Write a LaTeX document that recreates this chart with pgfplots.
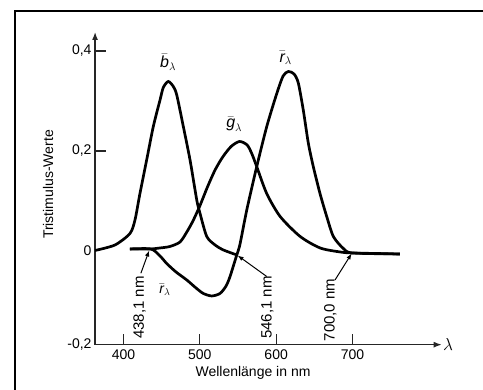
\documentclass[border=0pt]{standalone}
\usepackage{fontspec}
\setmainfont{Liberation Sans}
\usepackage{pgfplots}
\pgfplotsset{compat=1.18}
\usetikzlibrary{arrows.meta}
\begin{document}
\begin{tikzpicture}
\begin{axis}[
  x=0.7636pt, y=500pt,
  xmin=362.8, xmax=816.8, ymin=-0.1874, ymax=0.438,
  axis x line*=left, axis y line*=left,
  axis line style={draw=none},
  clip=false,
  tick align=inside,
  major tick length=11pt,
  tick style={black!85, line width=1.2pt},
  xtick={400,500,600,700},
  xticklabels={400,500,600,700},
  ytick={0.2,0.4},
  yticklabels={{0,2},{0,4}},
  extra y ticks={-0.1874,0},
  extra y tick labels={{-0,2},{0}},
  extra y tick style={major tick length=0pt},
  tick label style={font=\fontsize{14}{16}\selectfont},
  xticklabel style={yshift=-2pt},
]
% axis lines with arrows
\draw[black!85, line width=1.3pt, -{Latex[length=8pt,width=6pt]}] (axis cs:362.8,-0.1874) -- (axis cs:816.8,-0.1874);
\draw[black!85, line width=1.3pt, -{Latex[length=8pt,width=6pt]}] (axis cs:362.8,-0.1874) -- (axis cs:362.8,0.438);
% b-bar
\addplot[line width=2.7pt, smooth, tension=0.45] coordinates {
(362.8,0.001) (388.9,0.012) (408.5,0.035) (415.1,0.062) (421.6,0.115) (430.4,0.182)
(439.1,0.249) (447.9,0.302) (452.2,0.327) (458.7,0.339) (465.3,0.329) (469.8,0.312)
(478.4,0.249) (487.2,0.182) (496.0,0.102) (500.3,0.075) (509.1,0.029) (520,0.012)
(530.9,0.002) (548.5,-0.008)};
% g-bar
\addplot[line width=2.7pt, smooth, tension=0.45] coordinates {
(408.5,0.004) (421.6,0.004) (436,0.004) (447.9,0.006) (461,0.009) (474.1,0.018)
(483,0.038) (491,0.06) (500,0.09) (510,0.128) (520,0.162) (530,0.188) (541,0.209)
(552,0.219) (562,0.212) (568,0.195) (574.5,0.169) (587.6,0.115) (605.2,0.069)
(631.4,0.029) (657.6,0.006) (683.8,-0.002) (700,-0.004) (762,-0.006)};
% r-bar
\addplot[line width=2.7pt, smooth, tension=0.45] coordinates {
(408.5,0.004) (436,0.004) (447.9,-0.01) (456.6,-0.025) (468.8,-0.042) (482.9,-0.058)
(495,-0.074) (504.6,-0.085) (515.6,-0.09) (526.5,-0.085) (534.4,-0.07) (539.6,-0.051)
(548.4,-0.008) (552.7,0.014) (561.5,0.082) (574.6,0.169) (587.7,0.249) (600.8,0.315)
(609.1,0.35) (616,0.359) (623.4,0.354) (629.0,0.336) (635.5,0.282) (642.1,0.216)
(648.6,0.169) (657.4,0.115) (666.2,0.069) (674.9,0.029) (688,0.005) (700,-0.004) (762,-0.006)};

% curve labels
\node[font=\fontsize{16}{18}\selectfont] at (axis cs:458.4,0.378) {$\bar{\mbox{\itshape b}}_{\lambda}$};
\node[font=\fontsize{16}{18}\selectfont] at (axis cs:612.5,0.386) {$\bar{\mbox{\itshape r}}_{\lambda}$};
\node[font=\fontsize{16}{18}\selectfont] at (axis cs:545,0.254) {$\bar{\mbox{\itshape g}}_{\lambda}$};
\node[font=\fontsize{14}{16}\selectfont] at (axis cs:454.4,-0.078) {$\bar{\mbox{\itshape r}}_{\lambda}$};

% annotations
\node[font=\fontsize{15}{17}\selectfont, rotate=90] at (axis cs:421.0,-0.113) {438,1 nm};
\node[font=\fontsize{15}{17}\selectfont, rotate=90] at (axis cs:588.4,-0.113) {546,1 nm};
\node[font=\fontsize{15}{17}\selectfont, rotate=90] at (axis cs:670.9,-0.118) {700,0 nm};
\draw[line width=1pt, -{Latex[length=6pt,width=4.5pt]}] (axis cs:422.8,-0.0446) -- (axis cs:433.7,0.001);
\draw[line width=1pt, -{Latex[length=6pt,width=4.5pt]}] (axis cs:587.6,-0.051) -- (axis cs:549.5,-0.009);
\draw[line width=1pt, -{Latex[length=6pt,width=4.5pt]}] (axis cs:677.1,-0.058) -- (axis cs:698.9,-0.005);

% axis labels
\node[font=\fontsize{14}{16}\selectfont] at (axis cs:569.7,-0.244) {Wellenlänge in nm};
\node[font=\fontsize{14}{16}\selectfont, rotate=90] at (axis cs:301.2,0.133) {Tristimulus-Werte};
\node[font=\fontsize{16}{18}\selectfont] at (axis cs:825.0,-0.187) {$\lambda$};

\coordinate (BL) at (axis cs:238.3,-0.278);
\coordinate (TR) at (axis cs:870.9,0.502);
\coordinate (FL) at (axis cs:258.0,0.480);
\coordinate (FB) at (axis cs:258.0,-0.300);
\coordinate (FR) at (axis cs:900.0,0.480);
\end{axis}
\pgfresetboundingbox
\path[use as bounding box] (BL) rectangle (TR);
\draw[line width=2.6pt] (FB) -- (FL) -- (FR);
\end{tikzpicture}
\end{document}
